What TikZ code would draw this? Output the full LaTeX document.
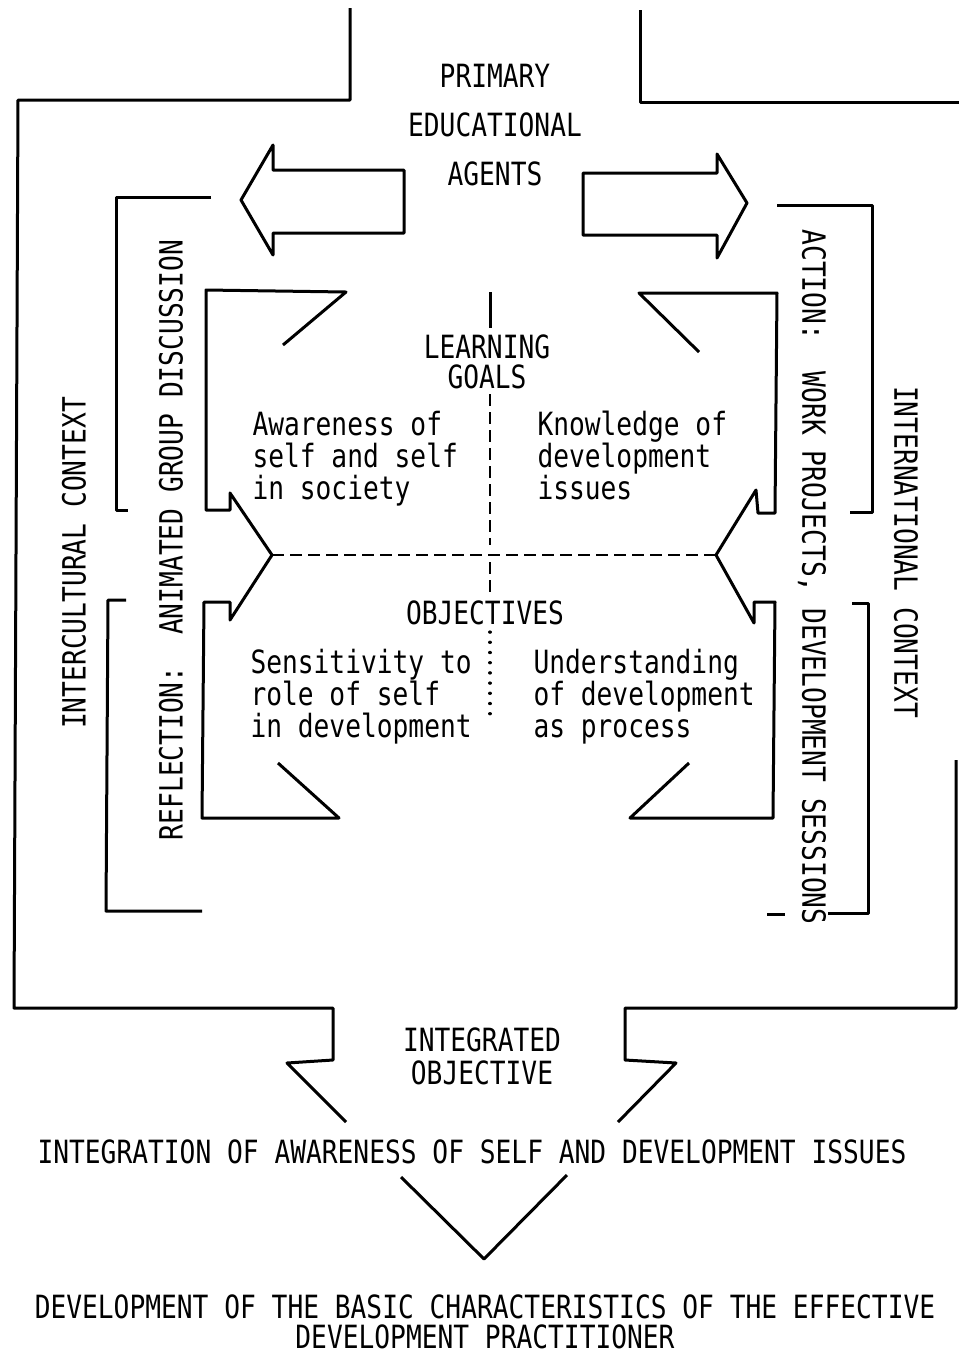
\documentclass[tikz,border=0pt]{standalone}
\usepackage{fontspec}
\setmonofont[FakeStretch=0.82]{DejaVu Sans Mono}
\begin{document}
\begin{tikzpicture}[x=0.5pt, y=-0.5pt, line width=1.5pt, line join=round,
  txt/.style={font=\ttfamily\fontsize{16}{16}\selectfont, align=left, anchor=north west, inner sep=0pt},
  lbl/.style={font=\ttfamily\fontsize{16}{16}\selectfont, align=center, inner sep=0pt},
  dsh/.style={line width=1.2pt, dash pattern=on 6pt off 3pt},
  dts/.style={line width=1.6pt, dash pattern=on 0.1pt off 5pt, line cap=round}]
\useasboundingbox (0,0) rectangle (959,1356);

% outer frame
\draw (350,8) -- (350,100) -- (18,100) -- (14,1008) -- (333,1008) -- (333,1060) -- (287,1063) -- (346,1122);
\draw (640,10) -- (640,102) -- (959,102);
\draw (956,760) -- (956,1008) -- (625,1008) -- (625,1060) -- (676,1063) -- (618,1122);

% hollow arrows
\draw (404,170) -- (273,170) -- (273,145) -- (241,200) -- (273,255) -- (273,233) -- (404,233) -- cycle;
\draw (583,173) -- (717,173) -- (717,154) -- (747,203) -- (717,258) -- (717,235) -- (583,235) -- cycle;

% brackets
\draw (211,197) -- (116,197) -- (116,510) -- (128,510);
\draw (126,600) -- (108,600) -- (106,911) -- (202,911);
\draw (777,205) -- (872,205) -- (872,512) -- (850,512);
\draw (852,603) -- (868,603) -- (868,913) -- (828,913);
\draw (767,914) -- (785,914);

% centre box
\coordinate (ltip) at (272,555);
\coordinate (rtip) at (716,555);
\draw (283,345) -- (346,292) -- (206,290) -- (206,510) -- (230,510) -- (230,493) -- (ltip) -- (230,620) -- (230,602) -- (204,602) -- (202,818) -- (339,818) -- (278,763);
\draw (699,352) -- (639,293) -- (777,293) -- (775,513) -- (758,513) -- (756,490) -- (rtip) -- (754,623) -- (754,602) -- (775,602) -- (773,818) -- (630,818) -- (689,763);
\draw[dsh] (ltip) -- (rtip);
\draw (490,292) -- (490,328);
\draw[dsh] (490,394) -- (490,545);
\draw[dsh] (490,562) -- (490,598);
\draw[dts] (490,632) -- (490,722);

% V below
\draw (401,1177) -- (484,1259) -- (567,1175);

\node[lbl, font=\ttfamily\fontsize{16}{24.5}\selectfont] (agents) at (495,125) {PRIMARY\\EDUCATIONAL\\AGENTS};
\node[lbl, font=\ttfamily\fontsize{16}{15}\selectfont] (goals) at (487,362) {LEARNING\\GOALS};
\node[lbl] (obj) at (485,613) {OBJECTIVES};
\node[txt] (aware) at (251,410) {Awareness of\\self and self\\in society};
\node[txt] (know) at (536,410) {Knowledge of\\development\\issues};
\node[txt] (sens) at (249,648) {Sensitivity to\\role of self\\in development};
\node[txt] (under) at (532,648) {Understanding\\of development\\as process};
\node[lbl, rotate=90] (icult) at (74,563) {INTERCULTURAL CONTEXT};
\node[lbl, rotate=90] (refl) at (171,540) {REFLECTION:\ \ ANIMATED GROUP DISCUSSION};
\node[lbl, rotate=-90] (act) at (812,577) {ACTION:\ \ WORK PROJECTS, DEVELOPMENT SESSIONS};
\node[lbl, rotate=-90] (inat) at (906,552) {INTERNATIONAL CONTEXT};
\node[lbl, font=\ttfamily\fontsize{16}{16.5}\selectfont] (integ) at (482,1056) {INTEGRATED\\OBJECTIVE};
\node[lbl] (integr) at (472,1152) {INTEGRATION OF AWARENESS OF SELF AND DEVELOPMENT ISSUES};
\node[lbl, font=\ttfamily\fontsize{16}{15}\selectfont] (devel) at (485,1322) {DEVELOPMENT OF THE BASIC CHARACTERISTICS OF THE EFFECTIVE\\DEVELOPMENT PRACTITIONER};
\end{tikzpicture}
\end{document}
